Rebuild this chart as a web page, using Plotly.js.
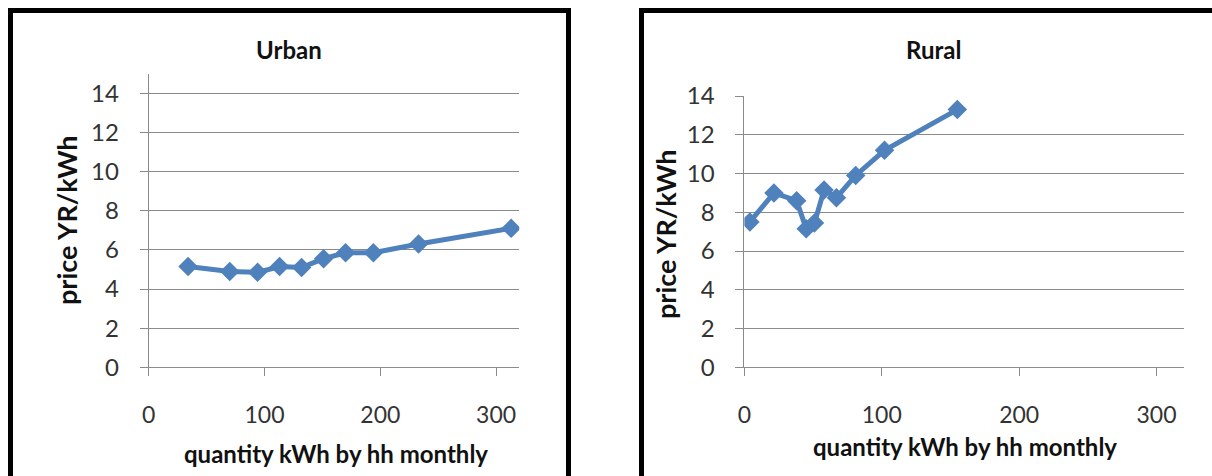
<!DOCTYPE html>
<html>
<head>
<meta charset="utf-8">
<script src="https://cdn.plot.ly/plotly-3.0.1.min.js"></script>
<style>
  html, body { margin: 0; padding: 0; background: #fff; }
  #chart { width: 1212px; height: 476px; }
</style>
</head>
<body>
<div id="chart"></div>
<script>
// Monthly household consumption (kWh) against unit price (YR/kWh)
const urbanQty   = [34, 70, 94, 113, 132, 151, 170, 194, 233, 313];
const urbanPrice = [5.15, 4.9, 4.85, 5.15, 5.1, 5.55, 5.85, 5.85, 6.3, 7.1];
const ruralQty   = [4, 21.5, 38, 45, 51, 58, 67, 81, 102, 155];
const ruralPrice = [7.5, 9.0, 8.6, 7.15, 7.45, 9.15, 8.75, 9.9, 11.2, 13.3];

const xTickVals = [0, 100, 200, 300];
const yTickVals = [0, 2, 4, 6, 8, 10, 12, 14];

const panelTitles = ['Urban', 'Rural'];
const xTitle = 'quantity kWh by hh monthly';
const yTitle = 'price YR/kWh';

const W = 1212, H = 476;
const px = v => v / W;
const py = v => 1 - v / H;

const FONT = 'Lato, "Open Sans", sans-serif';
const BLUE = '#4F81BD';
const GRID = '#8a8a8a';

function series(x, y, xa, ya) {
  return {
    x: x, y: y, xaxis: xa, yaxis: ya,
    type: 'scatter', mode: 'lines+markers',
    line: { color: BLUE, width: 5 },
    marker: { symbol: 'diamond', size: 15, color: BLUE },
    hoverinfo: 'x+y', showlegend: false
  };
}

function xAxis(domain) {
  return {
    domain: domain, range: [0, 320], tickvals: xTickVals,
    showgrid: false, zeroline: false,
    showline: true, linecolor: GRID, linewidth: 1,
    ticks: 'outside', ticklen: 8, tickcolor: GRID, tickwidth: 1,
    ticklabelstandoff: 19,
    tickfont: { family: FONT, size: 23, color: '#333' },
    fixedrange: true
  };
}

function yAxis(domain, top, anchor) {
  return {
    domain: domain, range: [0, top], tickvals: yTickVals, anchor: anchor,
    showgrid: true, gridcolor: GRID, gridwidth: 1, zeroline: false,
    showline: true, linecolor: GRID, linewidth: 1,
    ticks: 'outside', ticklen: 8, tickcolor: GRID, tickwidth: 1,
    ticklabelstandoff: 16,
    tickfont: { family: FONT, size: 24, color: '#333' },
    fixedrange: true
  };
}

const data = [
  series(urbanQty, urbanPrice, 'x', 'y'),
  series(ruralQty, ruralPrice, 'x2', 'y2')
];

const titleFont = { family: FONT, size: 24, color: '#111', weight: 'bold' };
const xTitleFont = { family: FONT, size: 24, color: '#111', weight: 'bold' };
const yTitleFont = { family: FONT, size: 27, color: '#111', weight: 'bold' };

function note(text, x, y, font, angle) {
  return {
    text: text, xref: 'paper', yref: 'paper', x: px(x), y: py(y),
    xanchor: 'center', yanchor: 'middle', showarrow: false,
    font: font, textangle: angle || 0
  };
}

const layout = {
  width: W, height: H,
  margin: { l: 0, r: 0, t: 0, b: 0 },
  paper_bgcolor: '#fff', plot_bgcolor: '#fff',
  xaxis:  xAxis([px(148.7), px(519.3)]),
  yaxis:  yAxis([py(367.3), py(73.7)], 15, 'x'),
  xaxis2: xAxis([px(744.4), px(1184)]),
  yaxis2: yAxis([py(367.3), py(96)], 14, 'x2'),
  annotations: [
    note(panelTitles[0], 289, 50, titleFont),
    note(panelTitles[1], 933, 50, titleFont),
    note(xTitle, 336, 453, xTitleFont),
    note(xTitle, 965, 446, xTitleFont),
    note(yTitle, 66, 220, yTitleFont, -90),
    note(yTitle, 665, 234, yTitleFont, -90)
  ],
  shapes: [
    { type: 'rect', xref: 'paper', yref: 'paper',
      x0: px(10.5), x1: px(568.5), y0: py(10.5), y1: py(500),
      line: { color: '#000', width: 5 }, fillcolor: 'rgba(0,0,0,0)', layer: 'below' },
    { type: 'rect', xref: 'paper', yref: 'paper',
      x0: px(641.5), x1: px(1240), y0: py(10.5), y1: py(500),
      line: { color: '#000', width: 5 }, fillcolor: 'rgba(0,0,0,0)', layer: 'below' }
  ]
};

Plotly.newPlot('chart', data, layout, { displayModeBar: false, staticPlot: true });
</script>
</body>
</html>
